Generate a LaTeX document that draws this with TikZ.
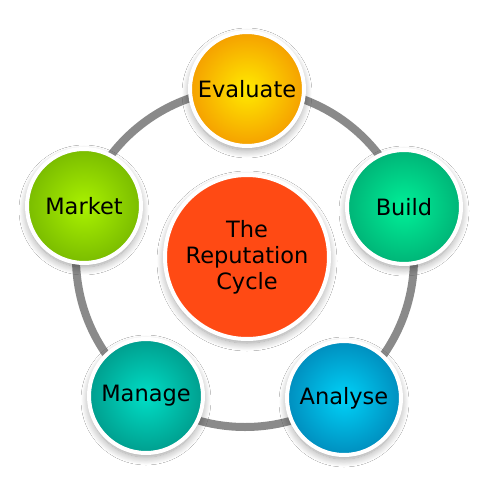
\documentclass[tikz,border=0pt]{standalone}
\usepackage{fontspec}
\setmainfont{DejaVu Sans}
\usetikzlibrary{shadows.blur}
\definecolor{ringgray}{HTML}{8A8A8A}
\definecolor{evalin}{HTML}{FFEA00}
\definecolor{evalout}{HTML}{F5A000}
\definecolor{buildin}{HTML}{00F098}
\definecolor{buildout}{HTML}{00B477}
\definecolor{anain}{HTML}{00D2F8}
\definecolor{anaout}{HTML}{008EBE}
\definecolor{manin}{HTML}{00DEC6}
\definecolor{manout}{HTML}{009E8E}
\definecolor{markin}{HTML}{AAF200}
\definecolor{markout}{HTML}{7ABC00}
\definecolor{hubred}{HTML}{FF4A14}
\begin{document}
\begin{tikzpicture}[x=1pt,y=-1pt,
  ring/.style={draw=ringgray, line width=8pt},
  softshadow/.style={blur shadow={shadow xshift=0pt, shadow yshift=-4pt, shadow blur radius=8pt, shadow blur steps=12, shadow opacity=40, shadow scale=1.0}},
  bub/.style={circle, draw=white, line width=4pt, minimum size=114pt, inner sep=0pt,
    font=\fontsize{22.5}{28}\selectfont, text=black, shading=radial, softshadow},
  hub/.style={circle, draw=white, line width=4pt, minimum size=164pt, inner sep=0pt,
    fill=hubred, align=center, font=\fontsize{22.5}{26}\selectfont, text=black, softshadow}
]
\fill[white] (0,0) rectangle (498,498);
\useasboundingbox (0,0) rectangle (498,498);
\coordinate (c) at (245,258);
\draw[ring] (c) circle[radius=169];
\node[hub] (hub) at (247,257) {The\\Reputation\\Cycle};
\node[bub, inner color=evalin, outer color=evalout] (evaluate) at (247,89) {Evaluate};
\node[bub, inner color=buildin, outer color=buildout] (build) at (404,207) {Build};
\node[bub, inner color=anain, outer color=anaout] (analyse) at (344,398) {Analyse};
\node[bub, inner color=manin, outer color=manout] (manage) at (146,396) {Manage};
\node[bub, inner color=markin, outer color=markout] (market) at (84,206) {Market};
\end{tikzpicture}
\end{document}
